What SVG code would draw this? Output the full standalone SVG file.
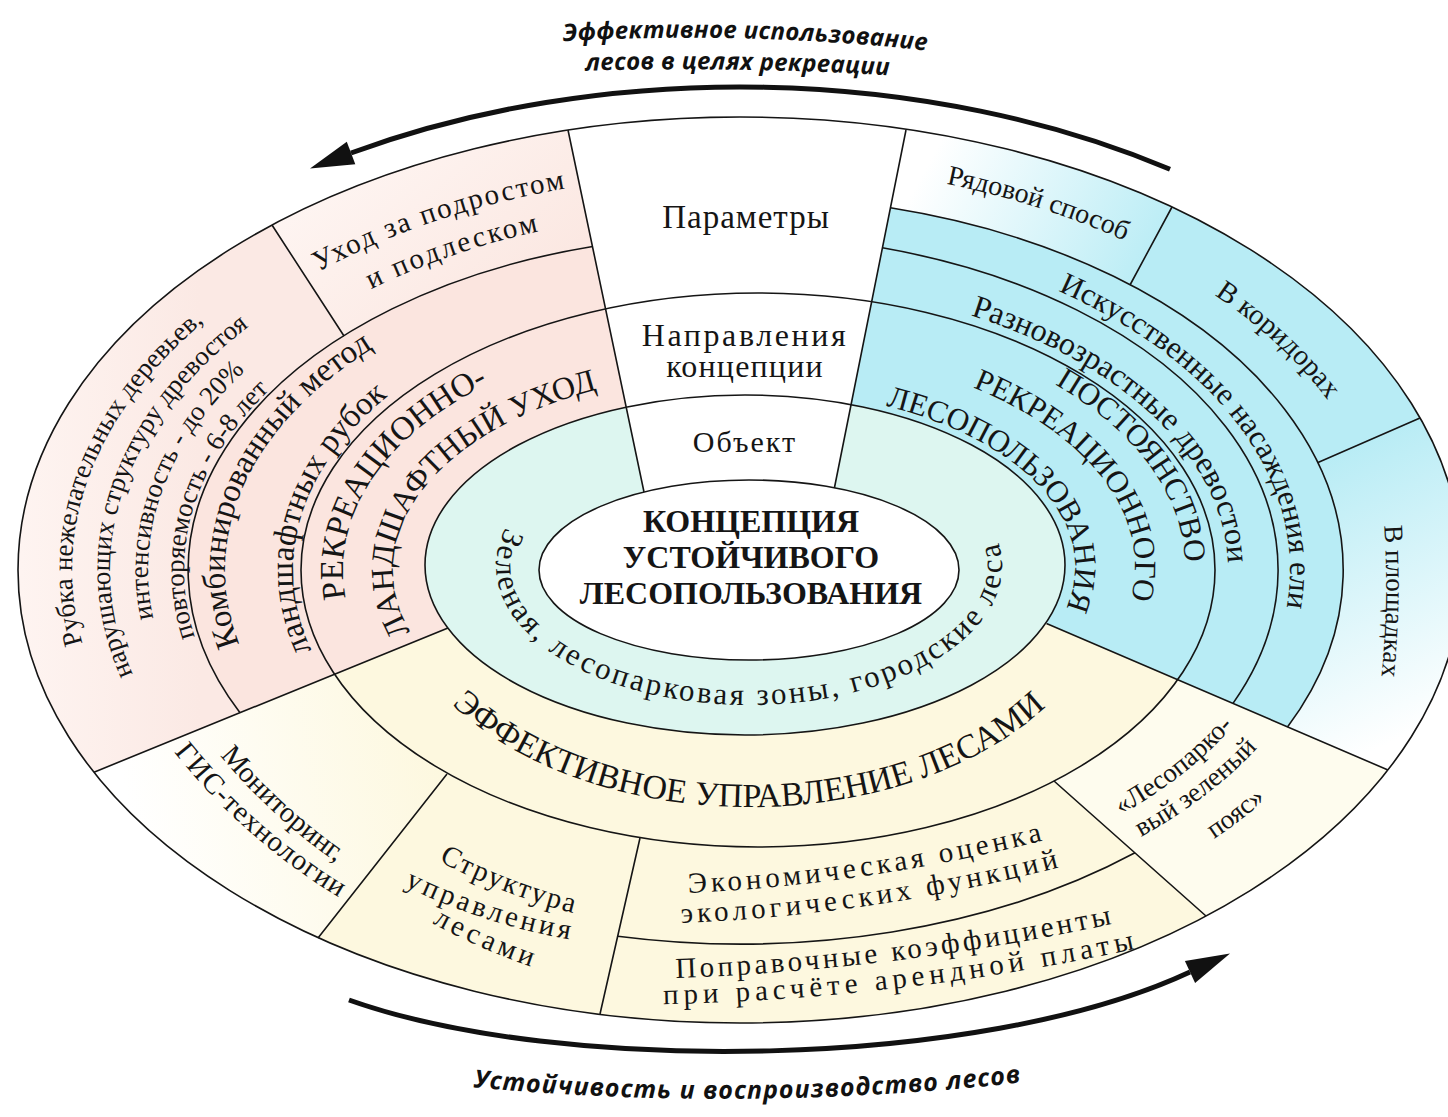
<svg xmlns="http://www.w3.org/2000/svg" width="1448" height="1117" viewBox="0 0 1448 1117">
<style>
.ln{fill:none;stroke:#151515;stroke-width:1.6}
.t{font-family:"Liberation Serif","Times New Roman",serif;fill:#151515}
.c{text-anchor:middle}
.bd{font-weight:bold}
.it{font-family:"Open Sans","Liberation Sans",sans-serif;font-weight:bold;font-style:italic;fill:#111;text-anchor:middle}
.arr{fill:none;stroke:#111;stroke-width:5}
</style>
<defs>
<clipPath id="cOut"><ellipse cx="740" cy="570" rx="722" ry="453"/></clipPath>
<clipPath id="rO3"><path clip-rule="evenodd" d="M 18 570 A 722 453 0 1 0 1462 570 A 722 453 0 1 0 18 570 Z M 188 570 A 545 335 0 1 0 1278 570 A 545 335 0 1 0 188 570 Z"/></clipPath>
<clipPath id="rO2"><path clip-rule="evenodd" d="M 18 570 A 722 453 0 1 0 1462 570 A 722 453 0 1 0 18 570 Z M 301 570 A 457 277 0 1 0 1215 570 A 457 277 0 1 0 301 570 Z"/></clipPath>
<clipPath id="rO4"><path clip-rule="evenodd" d="M 18 570 A 722 453 0 1 0 1462 570 A 722 453 0 1 0 18 570 Z M 137 570 A 603 374 0 1 0 1343 570 A 603 374 0 1 0 137 570 Z"/></clipPath>
<clipPath id="cE1"><ellipse cx="745" cy="565" rx="320" ry="170"/></clipPath>
<linearGradient id="gRyad" gradientUnits="userSpaceOnUse" x1="930" y1="160" x2="1150" y2="280"><stop offset="0" stop-color="#ffffff"/><stop offset="1" stop-color="#b8ecf5"/></linearGradient>
<linearGradient id="gPlosh" gradientUnits="userSpaceOnUse" x1="1320" y1="460" x2="1440" y2="720"><stop offset="0" stop-color="#b8ecf5"/><stop offset="1" stop-color="#ffffff"/></linearGradient>
<linearGradient id="gMon" gradientUnits="userSpaceOnUse" x1="130" y1="820" x2="440" y2="760"><stop offset="0" stop-color="#ffffff"/><stop offset="1" stop-color="#fdf8df"/></linearGradient>
<linearGradient id="gRub" gradientUnits="userSpaceOnUse" x1="20" y1="0" x2="200" y2="0"><stop offset="0" stop-color="#fef4f1"/><stop offset="1" stop-color="#fbe9e4"/></linearGradient>
<linearGradient id="gUh" gradientUnits="userSpaceOnUse" x1="350" y1="150" x2="500" y2="330"><stop offset="0" stop-color="#fef5f2"/><stop offset="1" stop-color="#fbe7e1"/></linearGradient>
<path id="p_rub1" d="M 83 645.1 A 668 416 0 0 1 205.1 320.8"/>
<path id="p_rub2" d="M 135.9 680.5 A 630 389 0 0 1 254.6 322"/>
<path id="p_rub3" d="M 155.3 626.8 A 592 363 0 0 1 251.5 364.9"/>
<path id="p_rub4" d="M 193.3 631.6 A 556 338 0 0 1 265.4 393.9"/>
<path id="p_komb1" d="M 244.5 656 A 515 316 0 0 1 384.4 341.4"/>
<path id="p_komb2" d="M 313.5 654.3 A 447 282 0 0 1 391.6 393.3"/>
<path id="p_rek1" d="M 348.3 609.4 A 397 241 0 0 1 498.3 378.8"/>
<path id="p_rek2" d="M 418.7 644.8 A 347 198 0 0 1 612.3 385.9"/>
<path id="p_uh1" d="M 318 272 A 629 388.4 0 0 1 568 188"/>
<path id="p_uh2" d="M 346.6 302 A 588 360.6 0 0 1 568.1 225.2"/>
<path id="p_post1" d="M 1050.1 381.6 A 433 255.6 0 0 1 1185 567.9"/>
<path id="p_post2" d="M 965.5 384.4 A 383 220 0 0 1 1128.6 607.1"/>
<path id="p_post3" d="M 873 402.9 A 323 177 0 0 1 1060 620.2"/>
<path id="p_razn" d="M 966.8 314.1 A 488 289 0 0 1 1228 567"/>
<path id="p_isk" d="M 1051.5 288.1 A 550 342 0 0 1 1285.3 614.6"/>
<path id="p_ryad" d="M 943.2 183.1 A 654 407 0 0 1 1127.2 242"/>
<path id="p_kor" d="M 1210.5 292.4 A 647.6 404 0 0 1 1330.2 403.7"/>
<path id="p_plosh" d="M 1384 522 A 900 900 0 0 1 1381 680"/>
<path id="p_eff" d="M 448.1 700.8 A 362 237 0 0 0 1049.8 702.9"/>
<path id="p_green" d="M 505.7 527.9 A 253 139 0 1 0 997.8 540.7"/>
<path id="p_mon1" d="M 217 752 A 600 600 0 0 0 340 865"/>
<path id="p_mon2" d="M 174 752 A 620 620 0 0 0 340 898"/>
<path id="p_str1" d="M 437 860 A 600 600 0 0 0 577 914"/>
<path id="p_str2" d="M 405 886 A 620 620 0 0 0 572 940"/>
<path id="p_str3" d="M 432 923 A 640 640 0 0 0 535 968"/>
<path id="p_ek1" d="M 690 893 A 1800 1800 0 0 0 1045 840"/>
<path id="p_ek2" d="M 680 923 A 1800 1800 0 0 0 1064 866"/>
<path id="p_pop1" d="M 675 978 A 2500 2500 0 0 0 1116 923"/>
<path id="p_pop2" d="M 673 1004 A 2500 2500 0 0 0 1130 950"/>
<path id="p_les1" d="M 1092 830 A 557 335.5 0 0 0 1253.5 700"/>
<path id="p_les2" d="M 1105.7 855.3 A 594 362 0 0 0 1282.7 717.2"/>
<path id="p_les3" d="M 1165.9 868.1 A 644 397.4 0 0 0 1305.4 760.2"/>
<path id="p_title1" d="M 550 42 Q 745 30 940 52"/>
<path id="p_title2" d="M 575 71 Q 738 66 900 76"/>
<path id="p_bottom" d="M 460 1086 Q 745 1114 1035 1081"/>
</defs>

<g id="fills">
<g clip-path="url(#cOut)">
<polygon points="530,-50 -100,-50 -100,851 655,544" fill="#fbe5df"/>
<polygon points="942,-50 1600,-50 1600,861 826,529" fill="#b8ecf5"/>
<polygon points="-100,851 655,544 826,529 1600,861 1600,1200 -100,1200" fill="#fdf8df"/>
<polygon points="530,-50 942,-50 826,529 655,544" fill="#ffffff"/>
</g>
<polygon points="92,-50 -100,-50 -100,851 300,688 416,445" fill="url(#gRub)" clip-path="url(#rO3)"/>
<polygon points="92,-50 530,-50 625,400 416,445" fill="url(#gUh)" clip-path="url(#rO3)"/>
<polygon points="-100,851 450,627 487,723 189,1102 -100,1102" fill="url(#gMon)" clip-path="url(#rO2)"/>
<polygon points="994,728 1100,646.5 1600,861 1600,1266" fill="#fefcee" clip-path="url(#rO2)"/>
<polygon points="942,-50 1308,-50 1109,324.5 872,300" fill="url(#gRyad)" clip-path="url(#rO4)"/>
<polygon points="1620,332 1267,484 1200,689.5 1600,861" fill="url(#gPlosh)" clip-path="url(#rO4)"/>
<ellipse cx="745" cy="565" rx="320" ry="170" fill="#ddf6f0"/>
<polygon points="530,-50 942,-50 826,529 655,544" fill="#ffffff" clip-path="url(#cE1)"/>
<ellipse cx="749" cy="570" rx="210" ry="90" fill="#ffffff"/>
</g>

<g id="connectors" class="ln">
<ellipse cx="740" cy="570" rx="722" ry="453"/>
<ellipse cx="758" cy="570" rx="457" ry="277"/>
<ellipse cx="745" cy="565" rx="320" ry="170"/>
<ellipse cx="749" cy="570" rx="210" ry="90"/>
<path d="M 592.6 246.5 A 545 335 0 0 0 240 712.8"/>
<path d="M 882.4 247.8 A 545 335 0 0 1 1233 703.4"/>
<path d="M 890.4 207.8 A 603 374 0 0 1 1287.5 727"/>
<path d="M 617.7 936.2 A 603 374 0 0 0 1135 852.8"/>
<path d="M 568 130 L 644 492 M 906 130 L 834.4 488 M 272 225 L 344 336 M 94 772.2 L 448 628 M 318 938 L 447 774 M 640 838 L 600 1014 M 1054 781 L 1206 916 M 1046.5 623.5 L 1388 770 M 1172 207 L 1130 285 M 1420 418 L 1318 462.5"/>
</g>

<g id="arrows">
<path class="arr" d="M 1170 169.3 A 770 483 0 0 0 351 153"/>
<polygon points="310,168.5 355.3,164.2 346.8,141.8" fill="#111"/>
<path class="arr" d="M 349 1000 C 560 1075 980 1070 1190 972"/>
<polygon points="1230,953.4 1195.1,982.9 1184.9,961.1" fill="#111"/>
</g>

<g id="title-top" class="it" font-size="24">
<text letter-spacing="0.3"><textPath href="#p_title1" startOffset="50%">Эффективное использование</textPath></text>
<text letter-spacing="0.3"><textPath href="#p_title2" startOffset="50%">лесов в целях рекреации</textPath></text>
</g>
<g id="title-bottom" class="it" font-size="25">
<text letter-spacing="1"><textPath href="#p_bottom" startOffset="50%">Устойчивость и воспроизводство лесов</textPath></text>
</g>

<g id="n-center" class="t bd c" font-size="32">
<text x="751" y="532">КОНЦЕПЦИЯ</text>
<text x="751" y="568">УСТОЙЧИВОГО</text>
<text x="751" y="604">ЛЕСОПОЛЬЗОВАНИЯ</text>
</g>

<g id="n-parametry" class="t c"><text x="746" y="228" font-size="33" letter-spacing="1">Параметры</text></g>
<g id="n-napravleniya" class="t c" font-size="32">
<text x="745" y="346" letter-spacing="2.6">Направления</text>
<text x="745" y="377" letter-spacing="1.2">концепции</text>
</g>
<g id="n-obekt" class="t c"><text x="745" y="452" font-size="30" letter-spacing="2">Объект</text></g>

<g id="n-green" class="t c" font-size="31">
<text letter-spacing="2.7"><textPath href="#p_green" startOffset="50%">Зеленая, лесопарковая зоны, городские леса</textPath></text>
</g>

<g id="n-rubka" class="t c" font-size="27">
<text><textPath href="#p_rub1" startOffset="50%">Рубка нежелательных деревьев,</textPath></text>
<text><textPath href="#p_rub2" startOffset="50%">нарушающих структуру древостоя</textPath></text>
<text><textPath href="#p_rub3" startOffset="50%">интенсивность - до 20%</textPath></text>
<text><textPath href="#p_rub4" startOffset="50%">повторяемость - 6-8 лет</textPath></text>
</g>
<g id="n-kombi" class="t c" font-size="33">
<text><textPath href="#p_komb1" startOffset="50%">Комбинированный метод</textPath></text>
<text><textPath href="#p_komb2" startOffset="50%">ландшафтных рубок</textPath></text>
</g>
<g id="n-rekr" class="t c">
<text font-size="33"><textPath href="#p_rek1" startOffset="50%">РЕКРЕАЦИОННО-</textPath></text>
<text font-size="32"><textPath href="#p_rek2" startOffset="50%">ЛАНДШАФТНЫЙ УХОД</textPath></text>
</g>
<g id="n-uhod" class="t c" font-size="29">
<text letter-spacing="2"><textPath href="#p_uh1" startOffset="50%">Уход за подростом</textPath></text>
<text letter-spacing="2.5"><textPath href="#p_uh2" startOffset="50%">и подлеском</textPath></text>
</g>

<g id="n-postoyanstvo" class="t c" font-size="31">
<text><textPath href="#p_post1" startOffset="50%">ПОСТОЯНСТВО</textPath></text>
<text><textPath href="#p_post2" startOffset="50%">РЕКРЕАЦИОННОГО</textPath></text>
<text><textPath href="#p_post3" startOffset="50%">ЛЕСОПОЛЬЗОВАНИЯ</textPath></text>
</g>
<g id="n-raznovozr" class="t c"><text font-size="32"><textPath href="#p_razn" startOffset="50%">Разновозрастные древостои</textPath></text></g>
<g id="n-iskusstv" class="t c"><text font-size="31"><textPath href="#p_isk" startOffset="50%">Искусственные насаждения ели</textPath></text></g>
<g id="n-ryadovoy" class="t c"><text font-size="28"><textPath href="#p_ryad" startOffset="50%">Рядовой способ</textPath></text></g>
<g id="n-koridor" class="t c"><text font-size="29"><textPath href="#p_kor" startOffset="50%">В коридорах</textPath></text></g>
<g id="n-ploshadki" class="t c"><text font-size="27"><textPath href="#p_plosh" startOffset="50%">В площадках</textPath></text></g>

<g id="n-effekt" class="t c"><text font-size="34"><textPath href="#p_eff" startOffset="50%">ЭФФЕКТИВНОЕ УПРАВЛЕНИЕ ЛЕСАМИ</textPath></text></g>
<g id="n-monitoring" class="t c" font-size="29">
<text><textPath href="#p_mon1" startOffset="50%">Мониторинг,</textPath></text>
<text letter-spacing="1"><textPath href="#p_mon2" startOffset="50%">ГИС-технологии</textPath></text>
</g>
<g id="n-struktura" class="t c" font-size="29">
<text letter-spacing="2"><textPath href="#p_str1" startOffset="50%">Структура</textPath></text>
<text letter-spacing="3.5"><textPath href="#p_str2" startOffset="50%">управления</textPath></text>
<text letter-spacing="4"><textPath href="#p_str3" startOffset="50%">лесами</textPath></text>
</g>
<g id="n-ekonom" class="t c" font-size="29">
<text letter-spacing="4"><textPath href="#p_ek1" startOffset="50%">Экономическая оценка</textPath></text>
<text letter-spacing="4.3"><textPath href="#p_ek2" startOffset="50%">экологических функций</textPath></text>
</g>
<g id="n-popravoch" class="t c" font-size="29">
<text letter-spacing="3.5"><textPath href="#p_pop1" startOffset="50%">Поправочные коэффициенты</textPath></text>
<text letter-spacing="5"><textPath href="#p_pop2" startOffset="50%">при расчёте арендной платы</textPath></text>
</g>
<g id="n-lesopark" class="t c" font-size="27">
<text><textPath href="#p_les1" startOffset="50%">«Лесопарко-</textPath></text>
<text><textPath href="#p_les2" startOffset="50%">вый зеленый</textPath></text>
<text><textPath href="#p_les3" startOffset="50%">пояс»</textPath></text>
</g>
</svg>
